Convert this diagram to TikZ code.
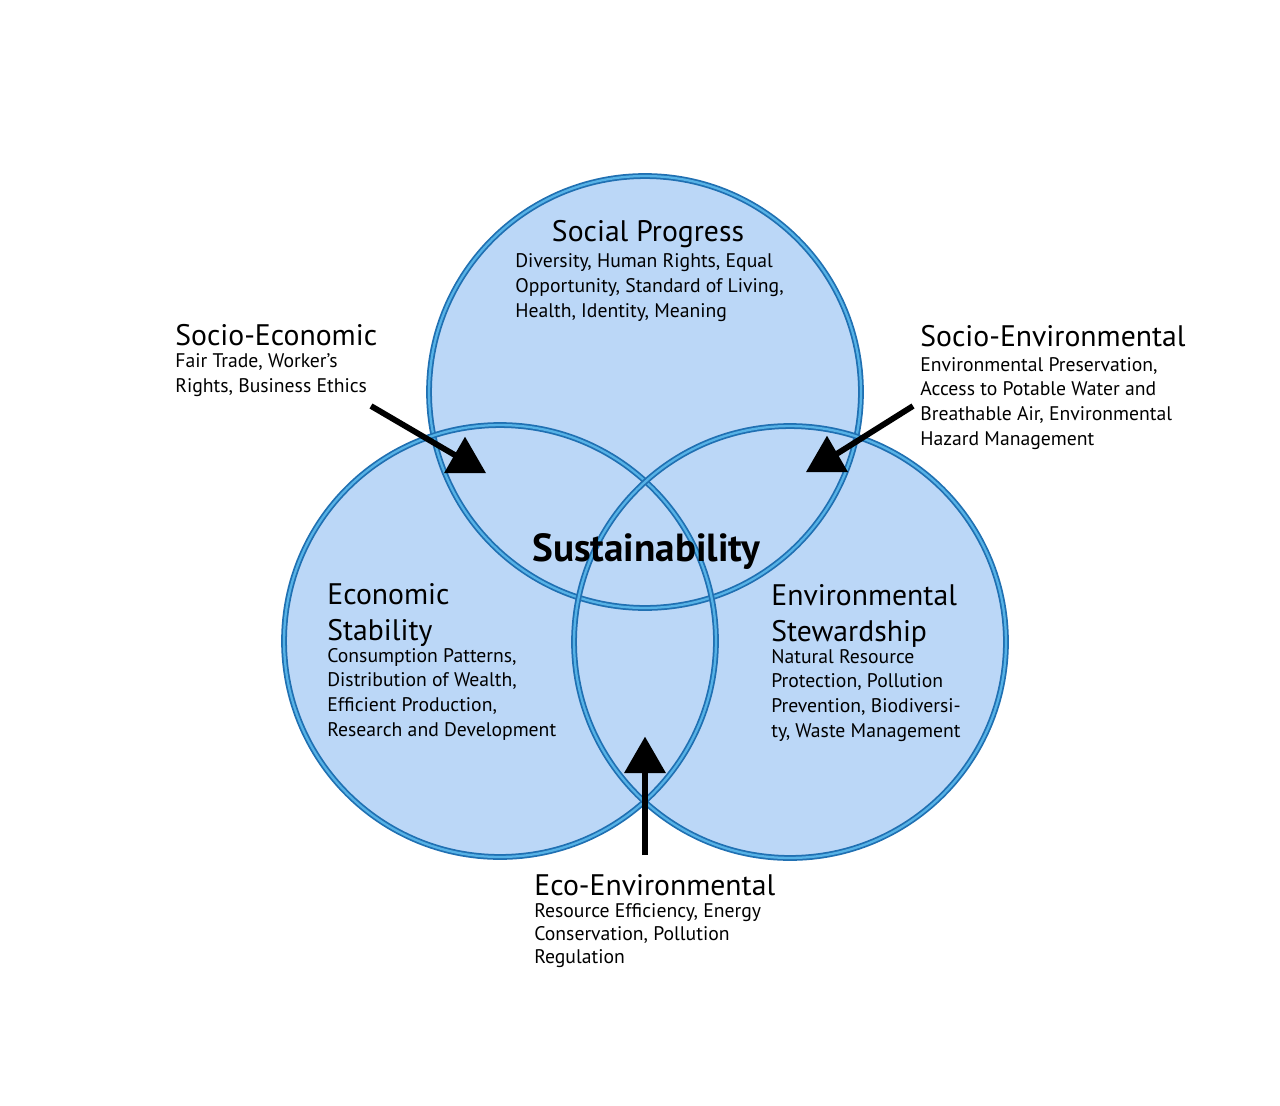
\documentclass[tikz,border=0pt]{standalone}
\usepackage{fontspec}
\setmainfont{PT Sans}
\usetikzlibrary{shapes.geometric}
\definecolor{cfill}{RGB}{187,215,247}
\definecolor{cdark}{RGB}{32,112,178}
\definecolor{clight}{RGB}{86,178,230}
\begin{document}
\begin{tikzpicture}[x=0.02cm,y=-0.02cm,
  ttl/.style={font=\fontsize{16.9}{20}\selectfont, inner sep=0, anchor=base west, align=left},
  body/.style={font=\fontsize{11.2}{14}\selectfont, inner sep=0, anchor=base west, align=left},
  tri/.style={regular polygon, regular polygon sides=3, fill=black, minimum size=0.97cm, inner sep=0},
  arr/.style={line width=3.3pt, black},
  ringout/.style={cdark, line width=3.3pt},
  ringin/.style={clight, line width=1.3pt}]
\useasboundingbox (0,0) rectangle (1280,1105);
\fill[white] (0,0) rectangle (1280,1105);
\coordinate (cS) at (645,392);
\coordinate (cE) at (500,641);
\coordinate (cV) at (790,642);
\foreach \c in {cS,cE,cV} \fill[cfill] (\c) circle[radius=4.32cm];
\foreach \c in {cS,cE,cV} {
  \draw[ringout] (\c) circle[radius=4.32cm];
  \draw[ringin] (\c) circle[radius=4.32cm];
}
% texts (base anchor = baseline of the last line)
\node[ttl, anchor=base] (spT) at (648,241) {Social Progress};
\node[body] (spB) at (515,317) {Diversity, Human Rights, Equal\\Opportunity, Standard of Living,\\Health, Identity, Meaning};
\node[ttl] (seT) at (175,345) {Socio-Economic};
\node[body] (seB) at (175,392) {Fair Trade, Worker's\\Rights, Business Ethics};
\node[ttl] (svT) at (920,346) {Socio-Environmental};
\node[body] (svB) at (920,445) {Environmental Preservation,\\Access to Potable Water and\\Breathable Air, Environmental\\Hazard Management};
\node[ttl] (esT) at (327,640) {Economic\\Stability};
\node[body] (esB) at (327,736) {Consumption Patterns,\\Distribution of Wealth,\\Efficient Production,\\Research and Development};
\node[ttl] (enT) at (771,641) {Environmental\\Stewardship};
\node[body] (enB) at (771,737) {Natural Resource\\Protection, Pollution\\Prevention, Biodiversi-\\ty, Waste Management};
\node[ttl] (eeT) at (534,895) {Eco-Environmental};
\node[body, font=\fontsize{11.2}{13}\selectfont] (eeB) at (534,963) {Resource Efficiency, Energy\\Conservation, Pollution\\Regulation};
\node[font=\bfseries\fontsize{22.3}{26}\selectfont, inner sep=0, anchor=base west] (sus) at (532,561) {Sustainability};
% arrows
\coordinate (a1) at (371,406);
\coordinate (a2) at (913,406);
\coordinate (a3) at (645,855);
\node[tri] (t1) at (465,461) {};
\node[tri] (t2) at (827,460) {};
\node[tri] (t3) at (645,761) {};
\draw[arr] (a1) -- (t1.center);
\draw[arr] (a2) -- (t2.center);
\draw[arr] (a3) -- (t3.center);
\end{tikzpicture}
\end{document}
